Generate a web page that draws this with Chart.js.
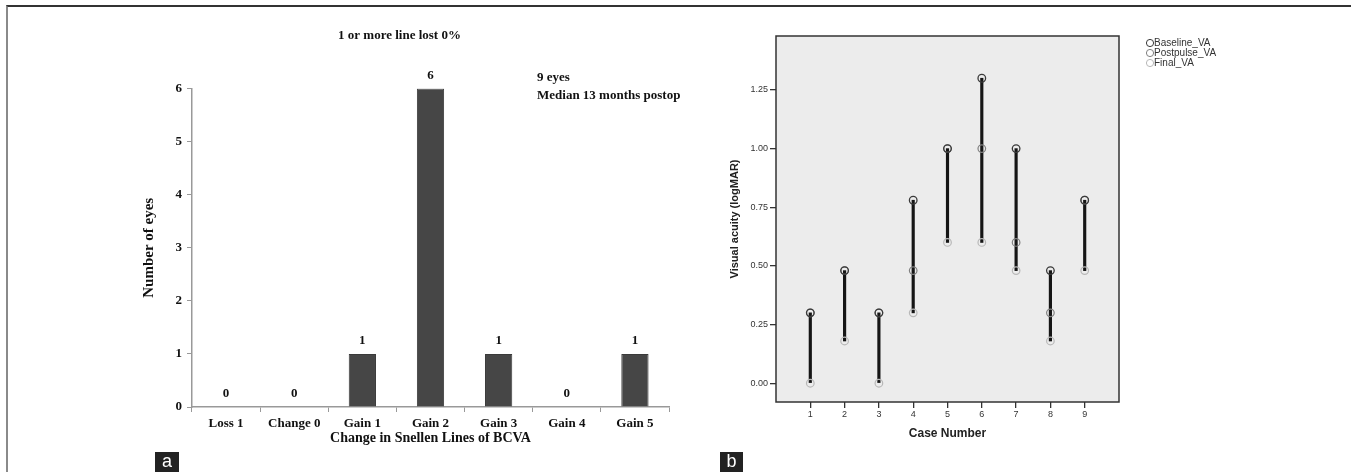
<!DOCTYPE html>
<html>
<head>
<meta charset="utf-8">
<script src="https://cdn.jsdelivr.net/npm/chart.js@4.4.1/dist/chart.umd.min.js"></script>
<style>
  html, body { margin: 0; padding: 0; background: #fff; }
  #page { position: relative; width: 1351px; height: 472px; overflow: hidden; }
  #frame { position: absolute; left: 6px; top: 5px; width: 1345px; height: 467px;
           border-top: 2px solid #333; border-left: 2px solid #8a8a8a; }
  canvas { position: absolute; top: 0; }
  #left { left: 0; }
  #right { left: 680px; }
  .tag { position: absolute; top: 452px; height: 20px; background: #222; color: #fff;
         font: 18px "Liberation Sans", Arial, sans-serif; line-height: 19px; text-align: center; }
</style>
</head>
<body>
<div id="page">
  <div id="frame"></div>
  <canvas id="left" width="680" height="472"></canvas>
  <canvas id="right" width="671" height="472"></canvas>
  <div class="tag" style="left:155px;width:24px">a</div>
  <div class="tag" style="left:720px;width:23px">b</div>
</div>
<script>
/* panel a : change in Snellen lines */
var categories = ['Loss 1', 'Change 0', 'Gain 1', 'Gain 2', 'Gain 3', 'Gain 4', 'Gain 5'];
var eyes = [0, 0, 1, 6, 1, 0, 1];
var eyesTicks = [0, 1, 2, 3, 4, 5, 6];

/* panel b : visual acuity per case */
var cases = [1, 2, 3, 4, 5, 6, 7, 8, 9];
var baselineVA = [0.30, 0.48, 0.30, 0.78, 1.00, 1.30, 1.00, 0.48, 0.78];
var postpulseVA = [0.30, 0.48, 0.30, 0.48, 1.00, 1.00, 0.60, 0.30, 0.78];
var finalVA = [0.00, 0.18, 0.00, 0.30, 0.60, 0.60, 0.48, 0.18, 0.48];
var vaTicks = [0, 0.25, 0.5, 0.75, 1.0, 1.25];

var serif = '"Liberation Serif", "Times New Roman", serif';
var sans = '"Liberation Sans", Arial, sans-serif';

/* labels over the bars plus the side note */
var barLabels = {
    id: 'barLabels',
    afterDatasetsDraw: function (chart) {
        var ctx = chart.ctx;
        var meta = chart.getDatasetMeta(0);
        ctx.save();
        ctx.fillStyle = '#111';
        ctx.font = 'bold 13px ' + serif;
        ctx.textAlign = 'center';
        ctx.textBaseline = 'middle';
        meta.data.forEach(function (bar, i) {
            ctx.fillText(String(eyes[i]), bar.x, bar.y - 13);
        });
        ctx.textAlign = 'left';
        var a = chart.chartArea;
        ctx.fillText('9 eyes', a.left + 345, a.top - 11);
        ctx.fillText('Median 13 months postop', a.left + 345, a.top + 7);
        ctx.restore();
    }
};

new Chart(document.getElementById('left'), {
    type: 'bar',
    data: {
        labels: categories,
        datasets: [{
            data: eyes,
            backgroundColor: '#464646',
            borderColor: '#3a3a3a',
            borderWidth: 1,
            barPercentage: 0.4,
            categoryPercentage: 1
        }]
    },
    options: {
        responsive: false,
        devicePixelRatio: 1,
        animation: false,
        layout: { padding: { left: 130, right: 11, top: 28, bottom: 20 } },
        plugins: {
            legend: { display: false },
            tooltip: { enabled: false },
            title: {
                display: true,
                text: '1 or more line lost 0%',
                color: '#111',
                font: { family: serif, size: 13, weight: 'bold' },
                padding: { top: 0, bottom: 45 }
            }
        },
        scales: {
            x: {
                grid: { offset: true, drawOnChartArea: false, drawTicks: true, tickLength: 5, color: '#999' },
                border: { color: '#999', width: 1.5 },
                ticks: { color: '#111', padding: 4, font: { family: serif, size: 13, weight: 'bold' } },
                title: {
                    display: true,
                    text: 'Change in Snellen Lines of BCVA',
                    color: '#111',
                    font: { family: serif, size: 14, weight: 'bold' },
                    padding: { top: 0, bottom: 5 }
                },
                afterFit: function (s) { s.height = 45; }
            },
            y: {
                min: 0,
                max: 6,
                afterBuildTicks: function (s) { s.ticks = eyesTicks.map(function (v) { return { value: v }; }); },
                grid: { drawOnChartArea: false, drawTicks: true, tickLength: 5, color: '#999' },
                border: { color: '#999', width: 1.5 },
                ticks: { color: '#111', padding: 5, font: { family: serif, size: 13, weight: 'bold' } },
                title: {
                    display: true,
                    text: 'Number of eyes',
                    color: '#111',
                    font: { family: serif, size: 15, weight: 'bold' },
                    padding: { top: 10, bottom: 0 }
                },
                afterFit: function (s) { s.width = 62; }
            }
        }
    },
    plugins: [barLabels]
});

/* grey plot box and the small legend */
var plotBox = {
    id: 'plotBox',
    beforeDatasetsDraw: function (chart) {
        var a = chart.chartArea, ctx = chart.ctx;
        ctx.save();
        ctx.fillStyle = '#ececec';
        ctx.fillRect(a.left, a.top, a.right - a.left, a.bottom - a.top);
        ctx.restore();
    },
    afterDraw: function (chart) {
        var a = chart.chartArea, ctx = chart.ctx;
        ctx.save();
        ctx.strokeStyle = '#333';
        ctx.lineWidth = 1.5;
        ctx.strokeRect(a.left, a.top, a.right - a.left, a.bottom - a.top);
        ctx.font = '10px ' + sans;
        ctx.textBaseline = 'middle';
        ctx.textAlign = 'left';
        chart.data.datasets.forEach(function (ds, i) {
            if (ds.type === 'bar') return;
            var y = a.top + 7 + i * 10;
            var x = a.right + 31;
            ctx.beginPath();
            ctx.arc(x, y, 3.6, 0, Math.PI * 2);
            ctx.strokeStyle = ds.borderColor;
            ctx.lineWidth = 1;
            ctx.stroke();
            ctx.fillStyle = '#333';
            ctx.fillText(ds.label, x + 4, y);
        });
        ctx.restore();
    }
};

function pts(vals) {
    return cases.map(function (c, i) { return { x: c, y: vals[i] }; });
}

new Chart(document.getElementById('right'), {
    type: 'scatter',
    data: {
        datasets: [
            { label: 'Baseline_VA', data: pts(baselineVA), borderColor: '#3a3a3a', backgroundColor: 'rgba(0,0,0,0)',
              pointRadius: 3.8, borderWidth: 1.3 },
            { label: 'Postpulse_VA', data: pts(postpulseVA), borderColor: '#808080', backgroundColor: 'rgba(0,0,0,0)',
              pointRadius: 3.8, borderWidth: 1.2 },
            { label: 'Final_VA', data: pts(finalVA), borderColor: '#b8b8b8', backgroundColor: 'rgba(0,0,0,0)',
              pointRadius: 3.8, borderWidth: 1.2 },
            { type: 'bar', label: 'range',
              data: cases.map(function (c, i) { return { x: c, y: [finalVA[i], baselineVA[i]] }; }),
              backgroundColor: '#151515', barThickness: 2.5, borderWidth: 0 }
        ]
    },
    options: {
        responsive: false,
        devicePixelRatio: 1,
        animation: false,
        layout: { padding: { left: 40, right: 232, top: 36, bottom: 20 } },
        plugins: { legend: { display: false }, tooltip: { enabled: false } },
        scales: {
            x: {
                type: 'linear',
                min: 0,
                max: 10,
                offset: false,
                afterBuildTicks: function (s) { s.ticks = cases.map(function (v) { return { value: v }; }); },
                grid: { offset: false, drawOnChartArea: false, drawTicks: true, tickLength: 6, color: '#333', lineWidth: 1.3 },
                border: { display: false },
                ticks: { color: '#333', padding: 1, font: { family: sans, size: 9 } },
                title: {
                    display: true,
                    text: 'Case Number',
                    color: '#222',
                    font: { family: sans, size: 12, weight: 'bold' },
                    padding: { top: 0, bottom: 11 }
                },
                afterFit: function (s) { s.height = 50; }
            },
            y: {
                min: -0.08,
                max: 1.48,
                afterBuildTicks: function (s) { s.ticks = vaTicks.map(function (v) { return { value: v }; }); },
                grid: { drawOnChartArea: false, drawTicks: true, tickLength: 6, color: '#333', lineWidth: 1.3 },
                border: { display: false },
                ticks: { color: '#333', padding: 2, font: { family: sans, size: 9 },
                         callback: function (v) { return Number(v).toFixed(2); } },
                title: {
                    display: true,
                    text: 'Visual acuity (logMAR)',
                    color: '#222',
                    font: { family: sans, size: 11, weight: 'bold' },
                    padding: { top: 8, bottom: 0 }
                },
                afterFit: function (s) { s.width = 56; }
            }
        }
    },
    plugins: [plotBox]
});
</script>
</body>
</html>
